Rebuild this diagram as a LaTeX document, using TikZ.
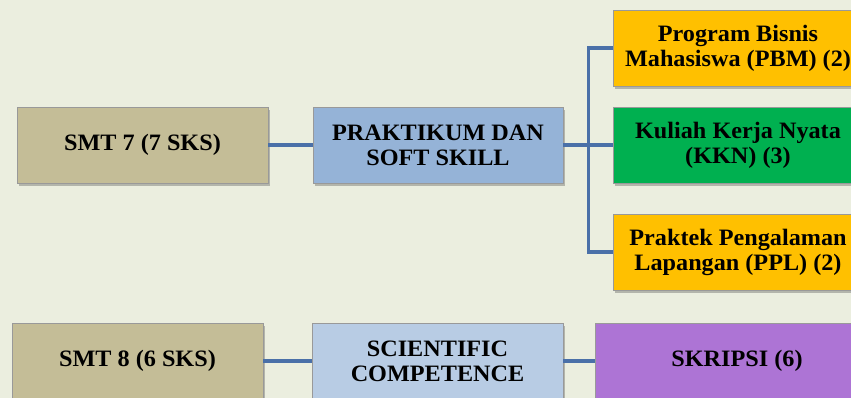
\documentclass[tikz,border=0pt]{standalone}
\usepackage{fontspec}
\setmainfont[FakeStretch=1.03]{Liberation Serif}
\usetikzlibrary{shadows}
\definecolor{bg}{HTML}{EBEEDF}
\definecolor{tan}{HTML}{C4BD97}
\definecolor{blueA}{HTML}{95B3D7}
\definecolor{blueB}{HTML}{B8CCE4}
\definecolor{gold}{HTML}{FFC000}
\definecolor{grn}{HTML}{00B050}
\definecolor{purp}{HTML}{AD74D5}
\definecolor{wire}{HTML}{4A70A8}
\tikzset{
  boxx/.style={draw=black!40, line width=0.8pt, minimum height=76pt, align=center,
    font=\fontsize{23.5}{25}\selectfont\bfseries, inner sep=2pt,
    drop shadow={shadow xshift=2pt, shadow yshift=-3pt, opacity=0.35, fill=black!70}},
  wireline/.style={draw=wire, line width=3.2pt}
}
\begin{document}
\begin{tikzpicture}[x=1pt,y=-1pt]
\clip (0,0) rectangle (851,398);
\useasboundingbox (0,0) rectangle (851,398);
\fill[bg] (0,0) rectangle (851,398);

\node[boxx, fill=tan, minimum width=251pt] (smt7) at (142.5,145) {SMT 7 (7 SKS)};
\node[boxx, fill=blueA, minimum width=250pt] (prak) at (438,145) {PRAKTIKUM DAN\\SOFT SKILL};
\node[boxx, fill=gold, minimum width=250pt] (pbm) at (738,48) {Program Bisnis\\Mahasiswa (PBM) (2)};
\node[boxx, fill=grn, minimum width=250pt] (kkn) at (738,145) {Kuliah Kerja Nyata\\(KKN) (3)};
\node[boxx, fill=gold, minimum width=250pt] (ppl) at (738,252) {Praktek Pengalaman\\Lapangan (PPL) (2)};

\node[boxx, fill=tan, minimum width=251pt] (smt8) at (137.5,361) {SMT 8 (6 SKS)};
\node[boxx, fill=blueB, minimum width=251pt] (sci) at (437.5,361) {SCIENTIFIC\\COMPETENCE};
\node[boxx, fill=purp, minimum width=284pt] (skr) at (737,361) {SKRIPSI (6)};

\draw[wireline] (smt7.east) -- (prak.west);
\draw[wireline] (prak.east) -- (kkn.west);
\draw[wireline] (pbm.west) -- ++(-24,0) |- (ppl.west);
\draw[wireline] (smt8.east) -- (sci.west);
\draw[wireline] (sci.east) -- (skr.west);
\end{tikzpicture}
\end{document}
